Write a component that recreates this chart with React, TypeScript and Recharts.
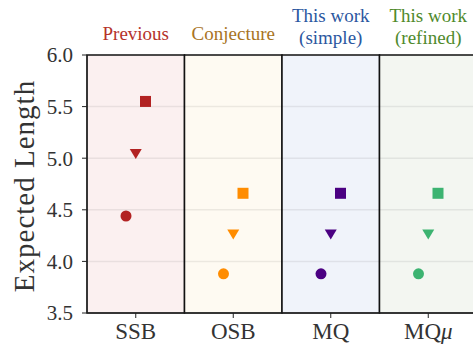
import React from 'react';
import {
  ComposedChart, Scatter, XAxis, YAxis, ReferenceArea, ReferenceLine, Cell,
} from 'recharts';

// categories along x
const categories = ['SSB', 'OSB', 'MQ', 'MQμ'];
const headerLines = [['Previous'], ['Conjecture'], ['This work', '(simple)'], ['This work', '(refined)']];
const headerColors = ['#b5322b', '#a8741f', '#2b57a0', '#4f8a2c'];
const bandColors = ['#fbf0f0', '#fefaf2', '#f0f3fa', '#f3f6f1'];
const markerColors = ['#b22222', '#ff8c00', '#4b0082', '#3cb371'];

// series values (expected length)
const circleValues = [4.44, 3.88, 3.88, 3.88];
const triangleValues = [5.05, 4.27, 4.27, 4.27];
const squareValues = [5.55, 4.66, 4.66, 4.66];

const yTicks = [3.5, 4.0, 4.5, 5.0, 5.5, 6.0];

const FONT = '"Liberation Serif", serif';

const toPoints = (values: number[], offset: number) =>
  values.map((v, i) => ({ x: i + offset, y: v, color: markerColors[i] }));

const circleData = toPoints(circleValues, -0.1);
const triangleData = toPoints(triangleValues, 0);
const squareData = toPoints(squareValues, 0.1);

const CircleShape = (p: any) => <circle cx={p.cx} cy={p.cy} r={5.5} fill={p.payload.color} />;
const SquareShape = (p: any) => (
  <rect x={p.cx - 5.5} y={p.cy - 5.5} width={11} height={11} fill={p.payload.color} />
);
const TriangleShape = (p: any) => (
  <path
    d={`M${p.cx - 6},${p.cy - 4} L${p.cx + 6},${p.cy - 4} L${p.cx},${p.cy + 6} Z`}
    fill={p.payload.color}
  />
);

const HeaderLabel = (props: any) => {
  const { viewBox, lines, color } = props;
  const cx = viewBox.x + viewBox.width / 2;
  const base = lines.length === 1 ? 40 : 22;
  return (
    <text textAnchor="middle" fill={color} fontFamily={FONT} fontSize={19}>
      {lines.map((l: string, k: number) => (
        <tspan key={k} x={cx} y={base + k * 22}>{l}</tspan>
      ))}
    </text>
  );
};

const XTick = (props: any) => {
  const { x, payload } = props;
  const name = categories[payload.value];
  const isMu = name.endsWith('μ');
  return (
    <text x={x} y={339} textAnchor="middle" fill="#333" fontFamily={FONT} fontSize={23}>
      {isMu ? (
        <>
          <tspan>MQ</tspan>
          <tspan fontStyle="italic">μ</tspan>
        </>
      ) : name}
    </text>
  );
};

const YLabel = () => (
  <text
    x={25} y={186} dy={9} transform="rotate(-90 25 186)" textAnchor="middle"
    fill="#333" fontFamily={FONT} fontSize={29} letterSpacing={1}
  >
    Expected Length
  </text>
);

export default function App() {
  return (
    <div style={{ position: 'absolute', left: 0, top: 0 }}>
      <ComposedChart width={473} height={347} margin={{ top: 55, right: -4, bottom: 0, left: 0 }}>
        <XAxis
          type="number" dataKey="x" domain={[-0.5, 3.5]} ticks={[0, 1, 2, 3]}
          height={34} stroke="#222" tickSize={5} tick={<XTick />} interval={0}
        />
        <YAxis
          type="number" dataKey="y" domain={[3.5, 6]} ticks={yTicks} width={87}
          stroke="#222" tickSize={5} tickMargin={9} label={<YLabel />}
          tickFormatter={(v: number) => v.toFixed(1)}
          tick={{ fill: '#333', fontFamily: FONT, fontSize: 21 }}
        />
        {categories.map((c, i) => (
          <ReferenceArea
            key={c} x1={i - 0.5} x2={i + 0.5} y1={3.5} y2={6}
            fill={bandColors[i]} fillOpacity={1} stroke="#111" strokeWidth={1.5}
            label={<HeaderLabel lines={headerLines[i]} color={headerColors[i]} />}
          />
        ))}
        {yTicks.slice(1, -1).map((t) => (
          <ReferenceLine key={t} y={t} stroke="#000" strokeOpacity={0.07} strokeWidth={1.5} />
        ))}
        <Scatter data={circleData} dataKey="y" shape={CircleShape} isAnimationActive={false}>
          {circleData.map((d, i) => <Cell key={i} fill={d.color} />)}
        </Scatter>
        <Scatter data={triangleData} dataKey="y" shape={TriangleShape} isAnimationActive={false}>
          {triangleData.map((d, i) => <Cell key={i} fill={d.color} />)}
        </Scatter>
        <Scatter data={squareData} dataKey="y" shape={SquareShape} isAnimationActive={false}>
          {squareData.map((d, i) => <Cell key={i} fill={d.color} />)}
        </Scatter>
      </ComposedChart>
    </div>
  );
}
